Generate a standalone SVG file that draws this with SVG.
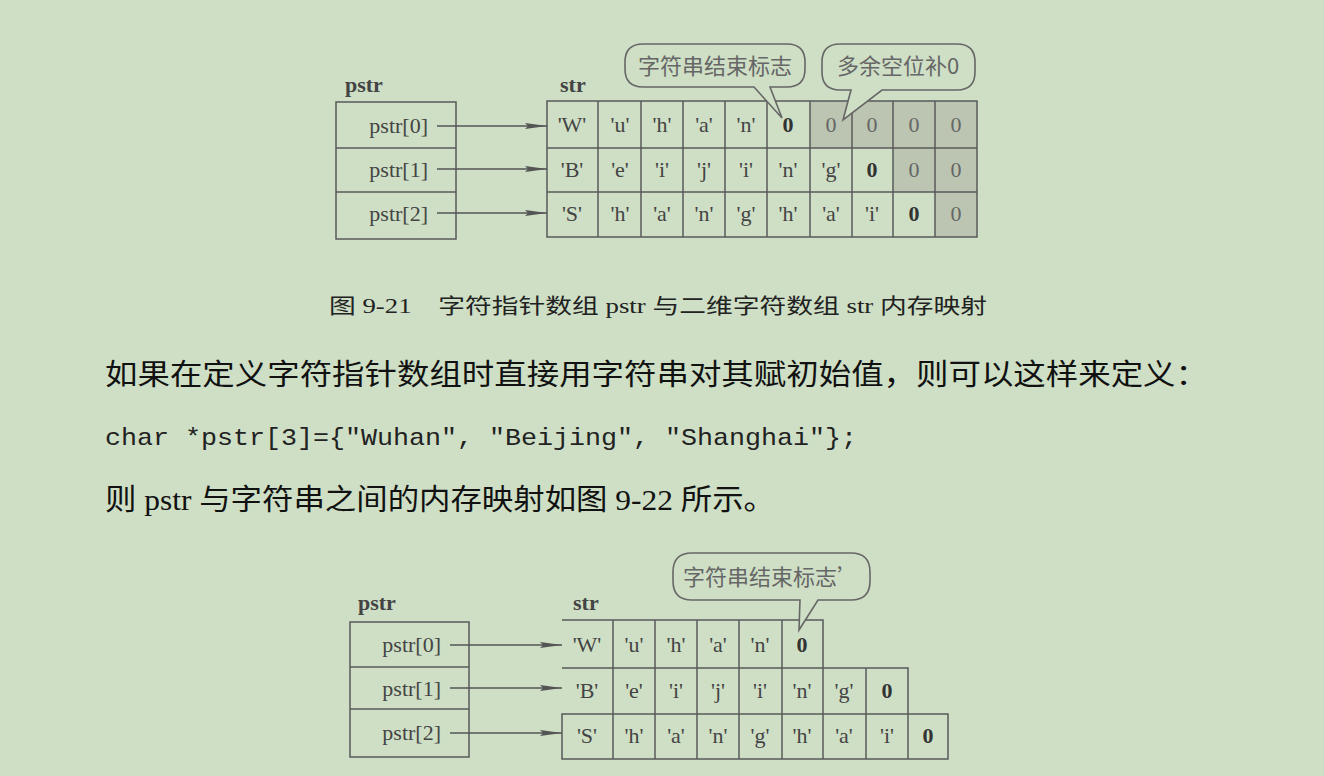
<svg xmlns="http://www.w3.org/2000/svg" width="1324" height="776" viewBox="0 0 1324 776">
<defs>
<marker id="ah" viewBox="0 0 22 10" refX="22" refY="5" markerWidth="22" markerHeight="10" markerUnits="userSpaceOnUse" orient="auto">
<path d="M0,2 L22,5 L0,8 L3,5 Z" fill="#555"/>
</marker>
</defs>
<style>
.bg{fill:#cedfc5}
.box{fill:none;stroke:#5a5a5a;stroke-width:1.5}
.sh{fill:#bbc5b1}
.cell{font-family:"Liberation Serif",serif;font-size:22px;fill:#444;text-anchor:middle}
.z{font-family:"Liberation Serif",serif;font-size:22px;fill:#333;font-weight:bold;text-anchor:middle}
.zg{font-family:"Liberation Serif",serif;font-size:22px;fill:#666;text-anchor:middle}
.lbl{font-family:"Liberation Serif",serif;font-size:22px;fill:#444;text-anchor:end}
.ttl{font-family:"Liberation Serif",serif;font-size:22px;fill:#444;font-weight:bold}
.arr{stroke:#555;stroke-width:1.3;fill:none;marker-end:url(#ah)}
.bub{fill:#cedfc5;stroke:#666;stroke-width:1.6}
.bt{font-family:"Noto Sans CJK SC",sans-serif;font-size:22px;fill:#666;text-anchor:middle}
.cap{font-family:"Liberation Serif","Noto Sans CJK SC",serif;font-size:21px;fill:#222}
.body{font-family:"Liberation Serif","Noto Sans CJK SC",serif;font-size:29px;fill:#111}
.code{font-family:"Liberation Mono",monospace;font-size:24px;fill:#222}
</style>
<rect class="bg" x="0" y="0" width="1324" height="776"/>

<!-- Top diagram -->
<g id="top-pstr">
<text class="ttl" x="345" y="92">pstr</text>
<rect class="box" x="336" y="102" width="120" height="137"/>
<line class="box" x1="336" y1="148" x2="456" y2="148"/>
<line class="box" x1="336" y1="192" x2="456" y2="192"/>
<text class="lbl" x="428" y="133">pstr[0]</text>
<text class="lbl" x="428" y="177">pstr[1]</text>
<text class="lbl" x="428" y="221">pstr[2]</text>
</g>

<g id="top-str">
<text class="ttl" x="560" y="92">str</text>
<rect class="sh" x="810" y="101" width="167" height="47"/>
<rect class="sh" x="893" y="148" width="84" height="44"/>
<rect class="sh" x="935" y="192" width="42" height="45"/>
<rect class="box" x="547" y="101" width="430" height="136"/>
<line class="box" x1="547" y1="148" x2="977" y2="148"/>
<line class="box" x1="547" y1="192" x2="977" y2="192"/>
<g class="box">
<line x1="598" y1="101" x2="598" y2="237"/>
<line x1="641" y1="101" x2="641" y2="237"/>
<line x1="683" y1="101" x2="683" y2="237"/>
<line x1="725" y1="101" x2="725" y2="237"/>
<line x1="767" y1="101" x2="767" y2="237"/>
<line x1="810" y1="101" x2="810" y2="237"/>
<line x1="852" y1="101" x2="852" y2="237"/>
<line x1="893" y1="101" x2="893" y2="237"/>
<line x1="935" y1="101" x2="935" y2="237"/>
</g>
<text class="cell" x="572" y="132">'W'</text>
<text class="cell" x="620" y="132">'u'</text>
<text class="cell" x="662" y="132">'h'</text>
<text class="cell" x="704" y="132">'a'</text>
<text class="cell" x="746" y="132">'n'</text>
<text class="z" x="788" y="132">0</text>
<text class="zg" x="831" y="132">0</text>
<text class="zg" x="872" y="132">0</text>
<text class="zg" x="914" y="132">0</text>
<text class="zg" x="956" y="132">0</text>

<text class="cell" x="572" y="177">'B'</text>
<text class="cell" x="620" y="177">'e'</text>
<text class="cell" x="662" y="177">'i'</text>
<text class="cell" x="704" y="177">'j'</text>
<text class="cell" x="746" y="177">'i'</text>
<text class="cell" x="788" y="177">'n'</text>
<text class="cell" x="831" y="177">'g'</text>
<text class="z" x="872" y="177">0</text>
<text class="zg" x="914" y="177">0</text>
<text class="zg" x="956" y="177">0</text>

<text class="cell" x="572" y="221">'S'</text>
<text class="cell" x="620" y="221">'h'</text>
<text class="cell" x="662" y="221">'a'</text>
<text class="cell" x="704" y="221">'n'</text>
<text class="cell" x="746" y="221">'g'</text>
<text class="cell" x="788" y="221">'h'</text>
<text class="cell" x="831" y="221">'a'</text>
<text class="cell" x="872" y="221">'i'</text>
<text class="z" x="914" y="221">0</text>
<text class="zg" x="956" y="221">0</text>
</g>

<g id="top-callout-end">
<path class="bub" d="M643,44 H787 Q805,44 805,62 V69 Q805,87 787,87 H770 L782,118 L754,87 H643 Q625,87 625,69 V62 Q625,44 643,44 Z"/>
<text class="bt" x="715" y="74">字符串结束标志</text>
</g>
<g id="top-callout-pad">
<path class="bub" d="M840,44 H957 Q975,44 975,62 V72 Q975,90 957,90 H882 L843,120 L851,90 H840 Q822,90 822,72 V62 Q822,44 840,44 Z"/>
<text class="bt" x="898" y="74">多余空位补0</text>
</g>

<g id="top-connectors">
<line class="arr" x1="437" y1="126" x2="547" y2="126"/>
<line class="arr" x1="437" y1="169" x2="547" y2="169"/>
<line class="arr" x1="437" y1="213" x2="547" y2="213"/>
</g>

<g id="caption">
<text class="cap" x="329" y="313" textLength="658" lengthAdjust="spacingAndGlyphs">图 9-21　字符指针数组 pstr 与二维字符数组 str 内存映射</text>
</g>

<g id="body-text">
<text class="body" x="105" y="385" textLength="1103" lengthAdjust="spacingAndGlyphs">如果在定义字符指针数组时直接用字符串对其赋初始值，则可以这样来定义：</text>
<text class="code" x="105" y="445" textLength="752" lengthAdjust="spacingAndGlyphs">char *pstr[3]={"Wuhan", "Beijing", "Shanghai"};</text>
<text class="body" x="105" y="510" textLength="670" lengthAdjust="spacingAndGlyphs">则 pstr 与字符串之间的内存映射如图 9-22 所示。</text>
</g>

<!-- Bottom diagram -->
<g id="bot-pstr">
<text class="ttl" x="358" y="610">pstr</text>
<rect class="box" x="350" y="622" width="119" height="135"/>
<line class="box" x1="350" y1="667" x2="469" y2="667"/>
<line class="box" x1="350" y1="709" x2="469" y2="709"/>
<text class="lbl" x="441" y="652">pstr[0]</text>
<text class="lbl" x="441" y="696">pstr[1]</text>
<text class="lbl" x="441" y="740">pstr[2]</text>
</g>

<g id="bot-str">
<text class="ttl" x="573" y="610">str</text>
<path class="box" d="M562,620 H823 V668 M562,668 H908 V714 M562,714 H948 V759 H562 Z"/>
<g class="box">
<line x1="613" y1="620" x2="613" y2="759"/>
<line x1="655" y1="620" x2="655" y2="759"/>
<line x1="697" y1="620" x2="697" y2="759"/>
<line x1="739" y1="620" x2="739" y2="759"/>
<line x1="782" y1="620" x2="782" y2="759"/>
<line x1="823" y1="668" x2="823" y2="759"/>
<line x1="866" y1="668" x2="866" y2="759"/>
<line x1="908" y1="714" x2="908" y2="759"/>
</g>
<text class="cell" x="587" y="652">'W'</text>
<text class="cell" x="634" y="652">'u'</text>
<text class="cell" x="676" y="652">'h'</text>
<text class="cell" x="718" y="652">'a'</text>
<text class="cell" x="760" y="652">'n'</text>
<text class="z" x="802" y="652">0</text>

<text class="cell" x="587" y="698">'B'</text>
<text class="cell" x="634" y="698">'e'</text>
<text class="cell" x="676" y="698">'i'</text>
<text class="cell" x="718" y="698">'j'</text>
<text class="cell" x="760" y="698">'i'</text>
<text class="cell" x="802" y="698">'n'</text>
<text class="cell" x="844" y="698">'g'</text>
<text class="z" x="887" y="698">0</text>

<text class="cell" x="587" y="743">'S'</text>
<text class="cell" x="634" y="743">'h'</text>
<text class="cell" x="676" y="743">'a'</text>
<text class="cell" x="718" y="743">'n'</text>
<text class="cell" x="760" y="743">'g'</text>
<text class="cell" x="802" y="743">'h'</text>
<text class="cell" x="844" y="743">'a'</text>
<text class="cell" x="887" y="743">'i'</text>
<text class="z" x="928" y="743">0</text>
</g>

<g id="bot-callout-end">
<path class="bub" d="M692,553 H851 Q870,553 870,572 V581 Q870,600 851,600 H818 L799,630 L800,600 H692 Q673,600 673,581 V572 Q673,553 692,553 Z"/>
<text class="bt" x="771" y="585">字符串结束标志’</text>
</g>

<g id="bot-connectors">
<line class="arr" x1="450" y1="645" x2="562" y2="645"/>
<line class="arr" x1="450" y1="688" x2="562" y2="688"/>
<line class="arr" x1="450" y1="733" x2="562" y2="733"/>
</g>
</svg>
